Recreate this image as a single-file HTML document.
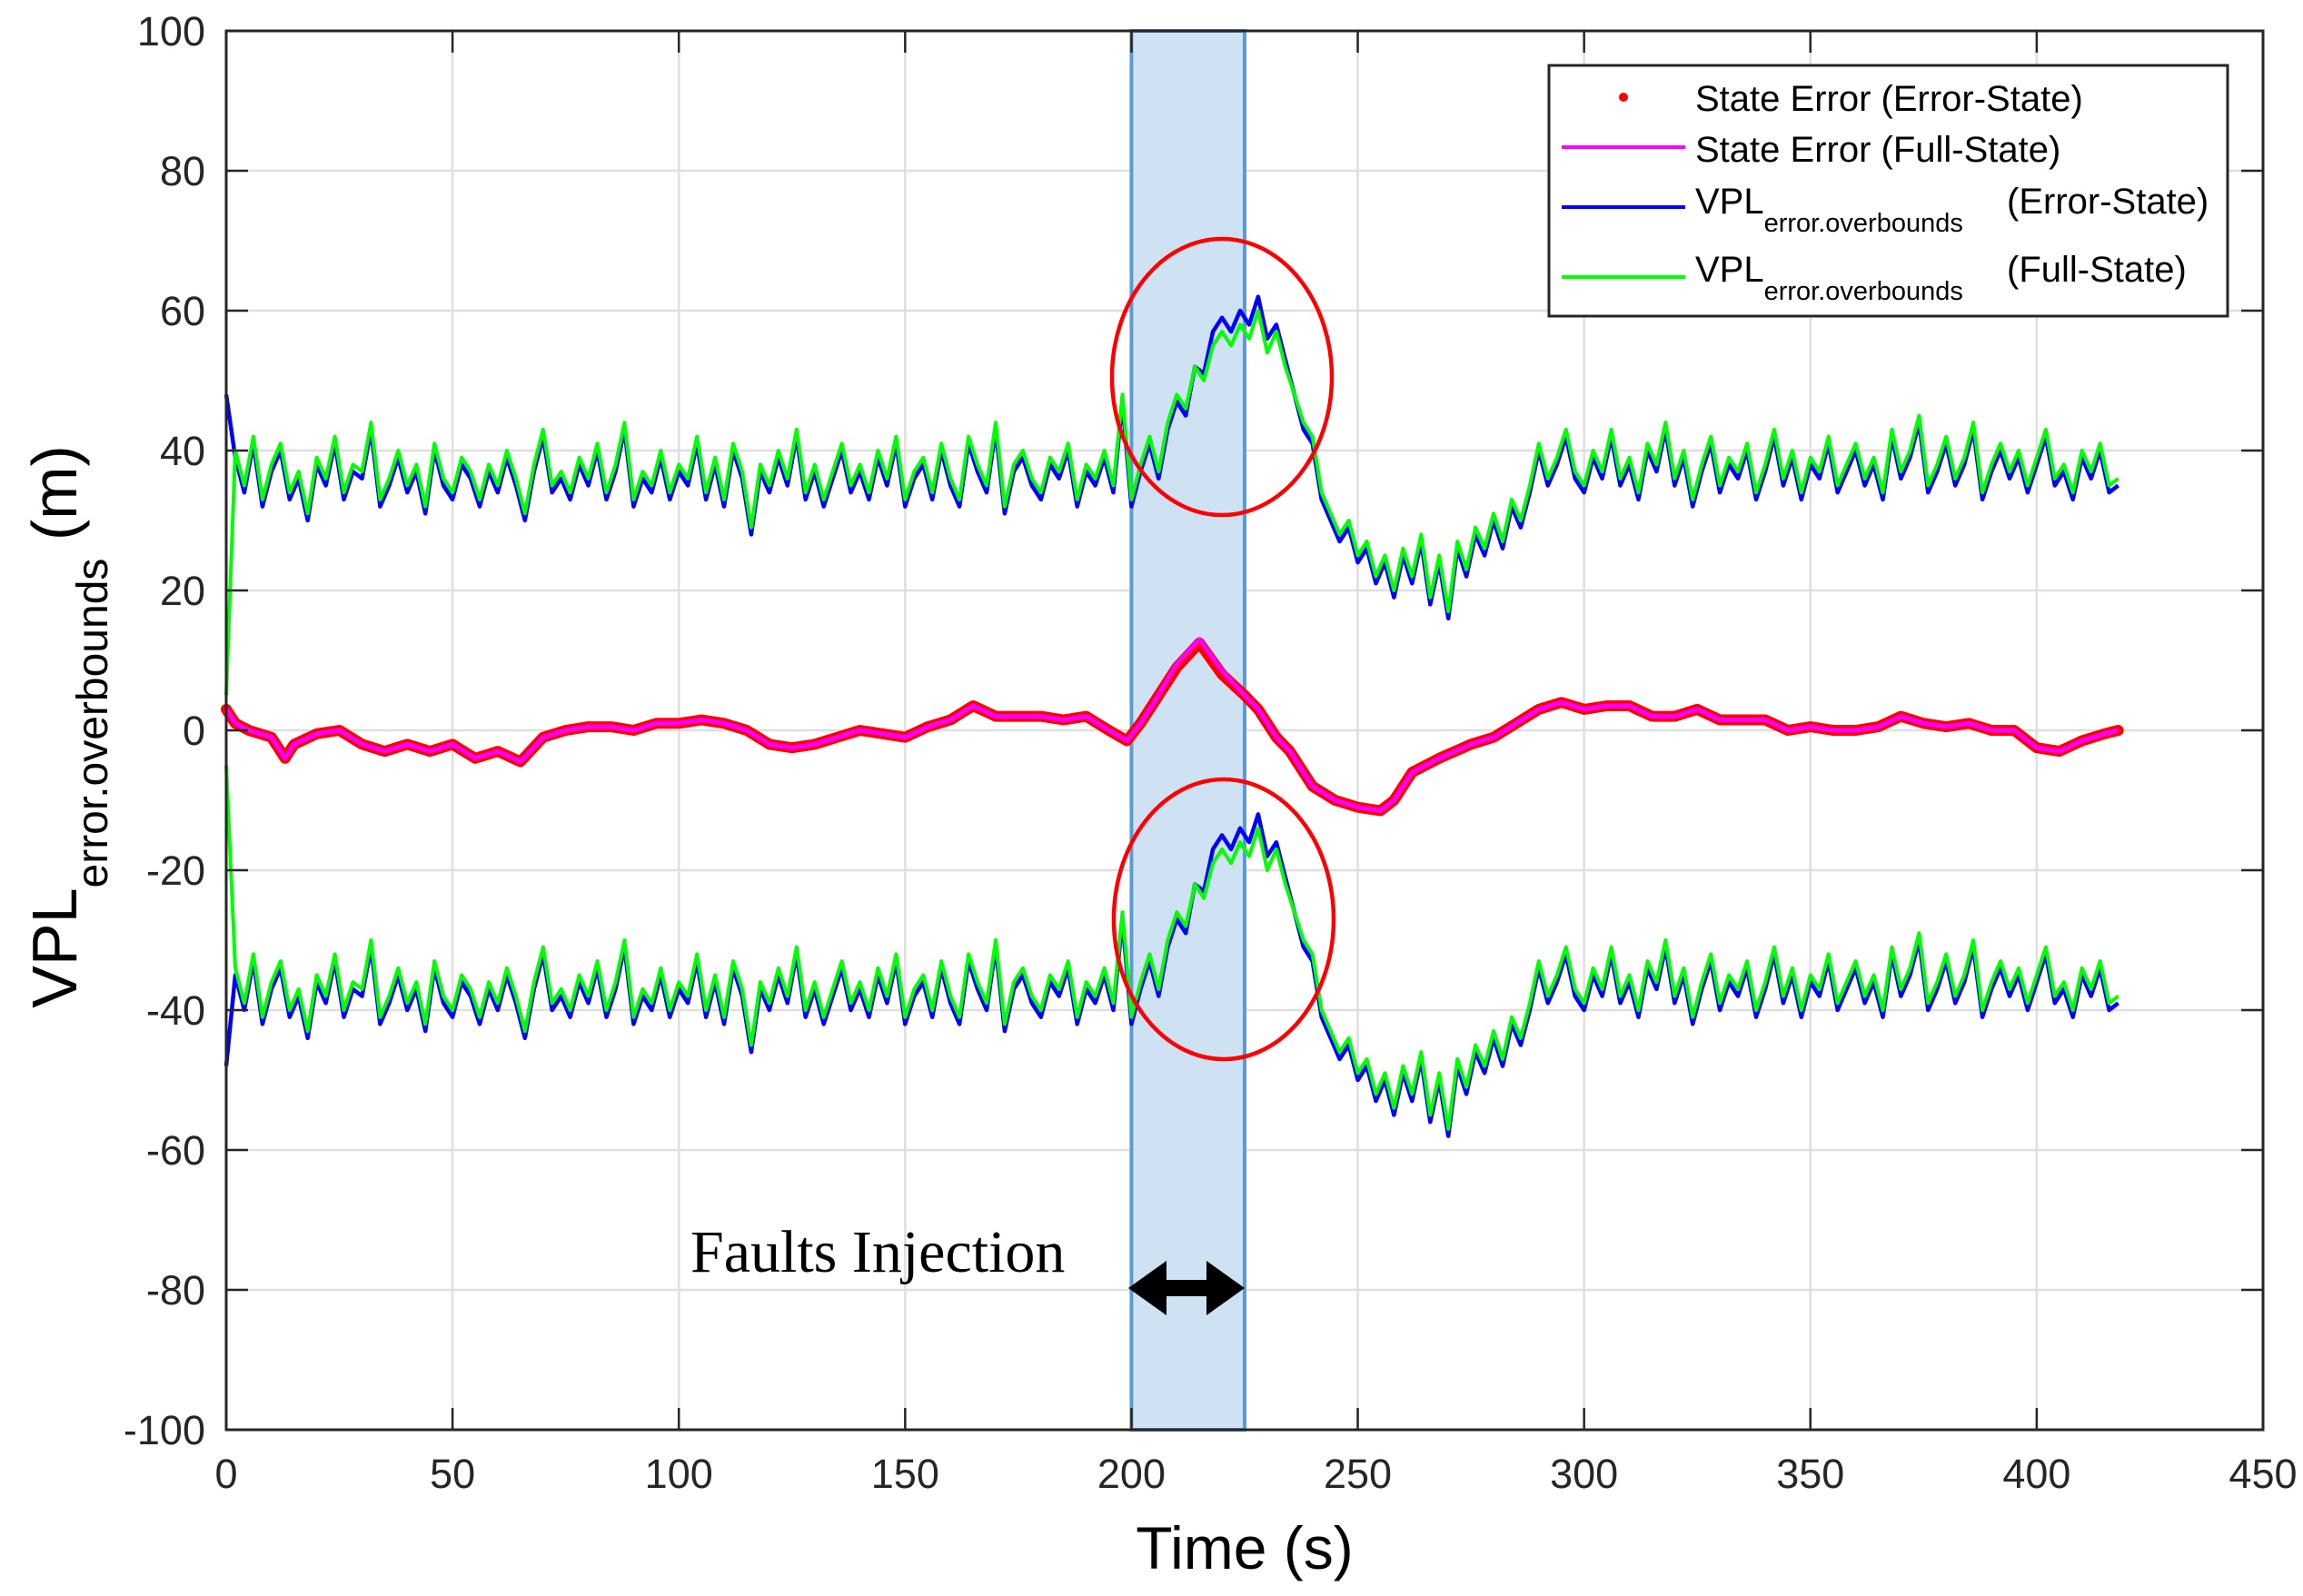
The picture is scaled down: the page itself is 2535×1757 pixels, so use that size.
<!DOCTYPE html>
<html><head><meta charset="utf-8">
<style>
html,body{margin:0;padding:0;background:#fff;}
svg{display:block;font-family:"Liberation Sans",Arial,sans-serif;}
</style></head>
<body>
<svg id="chart" width="2535" height="1757" viewBox="0 0 2535 1757" xmlns="http://www.w3.org/2000/svg">
<rect x="0" y="0" width="2535" height="1757" fill="#fff"/>
<g id="grid"></g>
<rect id="fault-region" fill="#cfe2f3" stroke="#5b9bd5" stroke-width="4"/>
<g id="series"></g>
<g id="axes"></g>
<ellipse cx="1345" cy="415" rx="121" ry="152" fill="none" stroke="#ff0000" stroke-width="4.5"/>
<ellipse cx="1347" cy="1012" rx="121" ry="154" fill="none" stroke="#ff0000" stroke-width="4.5"/>
<text x="760" y="1400" font-family="'Liberation Serif',serif" font-size="66" fill="#000">Faults Injection</text>
<g>
<rect x="1278" y="1409" width="56" height="18" fill="#000"/>
<polygon points="1242,1418 1284,1388 1284,1448" fill="#000"/>
<polygon points="1370,1418 1328,1388 1328,1448" fill="#000"/>
</g>
<text transform="translate(84,800) rotate(-90)" text-anchor="middle" font-size="70" fill="#000">VPL<tspan font-size="48" dy="34">error.overbounds</tspan><tspan dy="-34"> (m)</tspan></text>
<text x="1370" y="1727" text-anchor="middle" font-size="66" fill="#000">Time (s)</text>
<g>
<rect x="1705" y="72" width="747" height="276" fill="#fff" stroke="#262626" stroke-width="3"/>
<circle cx="1787" cy="107" r="5" fill="#ff0000"/>
<line x1="1719" y1="162" x2="1855" y2="162" stroke="#ff00ff" stroke-width="4"/>
<line x1="1719" y1="228" x2="1855" y2="228" stroke="#0000ff" stroke-width="4"/>
<line x1="1719" y1="305" x2="1855" y2="305" stroke="#00ff00" stroke-width="4"/>
<text x="1866" y="122" font-size="40">State Error (Error-State)</text>
<text x="1866" y="178" font-size="40">State Error (Full-State)</text>
<text x="1866" y="235" font-size="40">VPL<tspan font-size="29" dy="20">error.overbounds</tspan><tspan x="2209" dy="-20">(Error-State)</tspan></text>
<text x="1866" y="310" font-size="40">VPL<tspan font-size="29" dy="20">error.overbounds</tspan><tspan x="2209" dy="-20">(Full-State)</tspan></text>
</g>
</svg>
<script>
const xTicks = [0,50,100,150,200,250,300,350,400,450];
const yTicks = [100,80,60,40,20,0,-20,-40,-60,-80,-100];
const faultStart = 200;
const faultEnd = 225;
const errT = [0,2,5,10,13,15,20,25,30,35,40,45,50,55,60,65,70,75,80,85,90,95,100,105,110,115,120,125,130,135,140,145,150,155,160,165,170,175,180,185,190,195,199,202,205,210,215,220,225,228,232,235,240,245,250,255,258,262,268,275,280,285,290,295,300,305,310,315,320,325,330,340,345,350,355,360,365,370,375,380,385,390,395,400,405,410,415,418];
const errStateV = [3,1,0,-1,-4,-2,-0.5,0,-2,-3,-2,-3,-2,-4,-3,-4.5,-1,0,0.5,0.5,0,1,1,1.5,1,0,-2,-2.5,-2,-1,0,-0.5,-1,0.5,1.5,3.5,2,2,2,1.5,2,0,-1.5,1,4,9,12.5,8,5,3,-1,-3,-8,-10,-11,-11.5,-10,-6,-4,-2,-1,1,3,4,3,3.5,3.5,2,2,3,1.5,1.5,0,0.5,0,0,0.5,2,1,0.5,1,0,0,-2.5,-3,-1.5,-0.5,0];
const errFullV = [3,1,0,-1,-4,-2,-0.5,0,-2,-3,-2,-3,-2,-4,-3,-4.5,-1,0,0.5,0.5,0,1,1,1.5,1,0,-2,-2.5,-2,-1,0,-0.5,-1,0.5,1.5,3.5,2,2,2,1.5,2,0,-1.5,1,4,9.5,13,8.5,5,3,-1,-3,-8,-10,-11,-11.5,-10,-6,-4,-2,-1,1,3,4,3,3.5,3.5,2,2,3,1.5,1.5,0,0.5,0,0,0.5,2,1,0.5,1,0,0,-2.5,-3,-1.5,-0.5,0];
const vplFullStep = 2;
const vplFullUpper = [5,40,35,42,33,38,41,34,37,31,
39,36,42,34,38,37,44,33,36,40,
35,38,32,41,36,34,39,37,33,38,
35,40,36,31,38,43,35,37,34,39,
36,41,34,38,44,33,37,35,40,34,
38,36,42,34,39,33,41,37,29,38,
35,40,36,43,34,38,33,37,41,35,
38,34,40,36,42,33,37,39,34,41,
36,33,42,38,35,44,32,38,40,36,
34,39,37,41,33,38,36,40,35,48,
33,38,42,37,44,48,46,52,50,55,
57,55,58,56,60,54,57,52,48,44,
42,34,31,28,30,25,27,22,25,20,
26,22,28,19,25,17,27,23,29,26,
31,27,33,30,35,41,36,39,43,37,
35,40,37,43,36,39,34,41,38,44,
36,40,33,38,42,35,39,37,41,34,
38,43,36,40,34,39,37,42,35,38,
41,36,39,34,43,37,40,45,35,38,
42,36,39,44,34,38,41,37,40,35,
39,43,36,38,34,40,37,41,35,36];
const vplFullLower = [-5,-34,-39,-32,-41,-36,-33,-40,-37,-43,
-35,-38,-32,-40,-36,-37,-30,-41,-38,-34,
-39,-36,-42,-33,-38,-40,-35,-37,-41,-36,
-39,-34,-38,-43,-36,-31,-39,-37,-40,-35,
-38,-33,-40,-36,-30,-41,-37,-39,-34,-40,
-36,-38,-32,-40,-35,-41,-33,-37,-45,-36,
-39,-34,-38,-31,-40,-36,-41,-37,-33,-39,
-36,-40,-34,-38,-32,-41,-37,-35,-40,-33,
-38,-41,-32,-36,-39,-30,-42,-36,-34,-38,
-40,-35,-37,-33,-41,-36,-38,-34,-39,-26,
-41,-36,-32,-37,-30,-26,-28,-22,-24,-19,
-17,-19,-16,-18,-14,-20,-17,-22,-26,-30,
-32,-40,-43,-46,-44,-49,-47,-52,-49,-54,
-48,-52,-46,-55,-49,-57,-47,-51,-45,-48,
-43,-47,-41,-44,-39,-33,-38,-35,-31,-37,
-39,-34,-37,-31,-38,-35,-40,-33,-36,-30,
-38,-34,-41,-36,-32,-39,-35,-37,-33,-40,
-36,-31,-38,-34,-40,-35,-37,-32,-39,-36,
-33,-38,-35,-40,-31,-37,-34,-29,-39,-36,
-32,-38,-35,-30,-40,-36,-33,-37,-34,-39,
-35,-31,-38,-36,-40,-34,-37,-33,-39,-38];
const vplErrStep = 2;
const vplErrUpper = [48,39,34,41,32,37,40,33,36,30,
38,35,41,33,37,36,43,32,35,39,
34,37,31,40,35,33,38,36,32,37,
34,39,35,30,37,42,34,36,33,38,
35,40,33,37,43,32,36,34,39,33,
37,35,41,33,38,32,40,36,28,37,
34,39,35,42,33,37,32,36,40,34,
37,33,39,35,41,32,36,38,33,40,
35,32,41,37,34,43,31,37,39,35,
33,38,36,40,32,37,35,39,34,47,
32,37,41,36,43,47,45,52,51,57,
59,57,60,58,62,56,58,53,48,43,
41,33,30,27,29,24,26,21,24,19,
25,21,27,18,24,16,26,22,28,25,
30,26,32,29,34,40,35,38,42,36,
34,39,36,42,35,38,33,40,37,43,
35,39,32,37,41,34,38,36,40,33,
37,42,35,39,33,38,36,41,34,37,
40,35,38,33,42,36,39,44,34,37,
41,35,38,43,33,37,40,36,39,34,
38,42,35,37,33,39,36,40,34,35];
const vplErrLower = [-48,-35,-40,-33,-42,-37,-34,-41,-38,-44,
-36,-39,-33,-41,-37,-38,-31,-42,-39,-35,
-40,-37,-43,-34,-39,-41,-36,-38,-42,-37,
-40,-35,-39,-44,-37,-32,-40,-38,-41,-36,
-39,-34,-41,-37,-31,-42,-38,-40,-35,-41,
-37,-39,-33,-41,-36,-42,-34,-38,-46,-37,
-40,-35,-39,-32,-41,-37,-42,-38,-34,-40,
-37,-41,-35,-39,-33,-42,-38,-36,-41,-34,
-39,-42,-33,-37,-40,-31,-43,-37,-35,-39,
-41,-36,-38,-34,-42,-37,-39,-35,-40,-27,
-42,-37,-33,-38,-31,-27,-29,-22,-23,-17,
-15,-17,-14,-16,-12,-18,-16,-21,-26,-31,
-33,-41,-44,-47,-45,-50,-48,-53,-50,-55,
-49,-53,-47,-56,-50,-58,-48,-52,-46,-49,
-44,-48,-42,-45,-40,-34,-39,-36,-32,-38,
-40,-35,-38,-32,-39,-36,-41,-34,-37,-31,
-39,-35,-42,-37,-33,-40,-36,-38,-34,-41,
-37,-32,-39,-35,-41,-36,-38,-33,-40,-37,
-34,-39,-36,-41,-32,-38,-35,-30,-40,-37,
-33,-39,-36,-31,-41,-37,-34,-38,-35,-40,
-36,-32,-39,-37,-41,-35,-38,-34,-40,-39];

const NS = 'http://www.w3.org/2000/svg';
const L = 249, R = 2491, T = 34, B = 1574;
const xMin = 0, xMax = 450, yMin = -100, yMax = 100;
function xs(v){ return L + (v - xMin) / (xMax - xMin) * (R - L); }
function ys(v){ return T + (yMax - v) / (yMax - yMin) * (B - T); }
function mk(tag, attrs, parent){ const e = document.createElementNS(NS, tag); for (const k in attrs) e.setAttribute(k, attrs[k]); parent.appendChild(e); return e; }

const grid = document.getElementById('grid');
const axes = document.getElementById('axes');
const series = document.getElementById('series');

xTicks.forEach(t => {
  const g = mk('line', {x1: xs(t), x2: xs(t), y1: T, y2: B, stroke: '#dfdfdf', 'stroke-width': 2.5}, grid);
  
  
});
yTicks.forEach(t => {
  const g = mk('line', {x1: L, x2: R, y1: ys(t), y2: ys(t), stroke: '#dfdfdf', 'stroke-width': 2.5}, grid);
  
  
});

const fr = document.getElementById('fault-region');
fr.setAttribute('x', xs(faultStart));
fr.setAttribute('y', ys(yMax));
fr.setAttribute('width', xs(faultEnd) - xs(faultStart));
fr.setAttribute('height', ys(yMin) - ys(yMax));

function stepPts(arr, step){ return arr.map((v, i) => xs(i * step).toFixed(1) + ',' + ys(v).toFixed(1)).join(' '); }
function tPts(ts, vs){ return ts.map((t, i) => xs(t).toFixed(1) + ',' + ys(vs[i]).toFixed(1)).join(' '); }

const p1 = mk('polyline', {points: stepPts(vplErrUpper, vplErrStep), fill: 'none', stroke: '#0000ff', 'stroke-width': 4.5, 'stroke-linejoin': 'round'}, series);


const p2 = mk('polyline', {points: stepPts(vplErrLower, vplErrStep), fill: 'none', stroke: '#0000ff', 'stroke-width': 4.5, 'stroke-linejoin': 'round'}, series);


const p3 = mk('polyline', {points: stepPts(vplFullUpper, vplFullStep), fill: 'none', stroke: '#00ff00', 'stroke-width': 4, 'stroke-linejoin': 'round'}, series);


const p4 = mk('polyline', {points: stepPts(vplFullLower, vplFullStep), fill: 'none', stroke: '#00ff00', 'stroke-width': 4, 'stroke-linejoin': 'round'}, series);


const p5 = mk('polyline', {points: tPts(errT, errStateV), fill: 'none', stroke: '#ff0000', 'stroke-width': 12, 'stroke-linejoin': 'round', 'stroke-linecap': 'round'}, series);


const p6 = mk('polyline', {points: tPts(errT, errFullV), fill: 'none', stroke: '#ff00ff', 'stroke-width': 5, 'stroke-linejoin': 'round'}, series);



const box = mk('rect', {x: L, y: T, width: R - L, height: B - T, fill: 'none', stroke: '#262626', 'stroke-width': 3}, axes);


xTicks.forEach(t => {
  const a = mk('line', {x1: xs(t), x2: xs(t), y1: B, y2: B - 24, stroke: '#262626', 'stroke-width': 2.5}, axes);
  
  
  const b = mk('line', {x1: xs(t), x2: xs(t), y1: T, y2: T + 24, stroke: '#262626', 'stroke-width': 2.5}, axes);
  
  
  const lbl = mk('text', {x: xs(t), y: 1638, 'text-anchor': 'middle', 'font-size': 45, fill: '#262626'}, axes);
  lbl.textContent = t;
  
  
});
yTicks.forEach(t => {
  const a = mk('line', {x1: L, x2: L + 24, y1: ys(t), y2: ys(t), stroke: '#262626', 'stroke-width': 2.5}, axes);
  
  
  const b = mk('line', {x1: R, x2: R - 24, y1: ys(t), y2: ys(t), stroke: '#262626', 'stroke-width': 2.5}, axes);
  
  
  const lbl = mk('text', {x: 226, y: ys(t) + 16, 'text-anchor': 'end', 'font-size': 45, fill: '#262626'}, axes);
  lbl.textContent = t;
  
  
});
</script>
</body></html>
